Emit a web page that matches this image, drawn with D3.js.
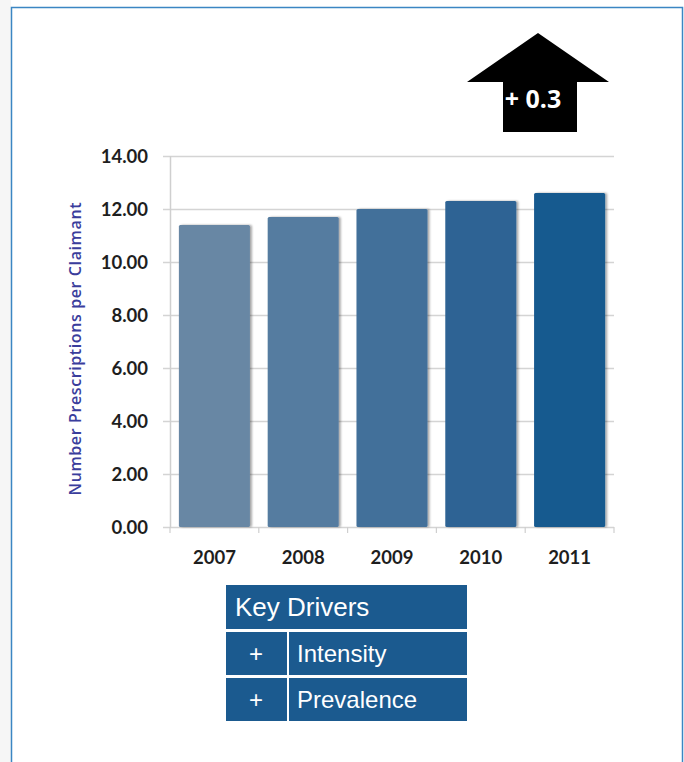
<!DOCTYPE html>
<html>
<head>
<meta charset="utf-8">
<script src="https://cdn.jsdelivr.net/npm/d3@7"></script>
<style>
  html, body { margin: 0; padding: 0; background: #ffffff; }
  svg { display: block; }
</style>
</head>
<body>
<svg id="chart" width="684" height="762"></svg>
<script>
// Prescriptions per claimant by year
const years = ["2007", "2008", "2009", "2010", "2011"];
const prescriptions = [11.4, 11.7, 12.0, 12.3, 12.6];
const barColors = ["#6887a4", "#557ca0", "#42709a", "#2f6494", "#175a8f"];
const yTicks = [0, 2, 4, 6, 8, 10, 12, 14];
const yLabel = "Number Prescriptions per Claimant";
const changeLabel = "+ 0.3";
const driversTitle = "Key Drivers";
const driverSigns = ["+", "+"];
const driverNames = ["Intensity", "Prevalence"];

const svg = d3.select("#chart");

// Page frame
svg.append("rect").attr("x", 0).attr("y", 0).attr("width", 11).attr("height", 762).attr("fill", "#f6f6f6");
svg.append("path")
  .attr("d", "M11.5,762 V7.5 H682.5 V762")
  .attr("fill", "none").attr("stroke", "#3b86c3").attr("stroke-width", 1.5);

// Plot area
const plot = { left: 170, right: 614, top: 156, bottom: 527 };

const x = d3.scaleBand().domain(years).range([plot.left, plot.right]).paddingInner(0.2).paddingOuter(0.1);
const y = d3.scaleLinear().domain([0, 14]).range([plot.bottom, plot.top]);

const font = "Lato, 'Open Sans', sans-serif";

// Gridlines
svg.append("g").selectAll("line").data(yTicks).join("line")
  .attr("x1", plot.left - 7).attr("x2", plot.right)
  .attr("y1", d => y(d) + 0.5).attr("y2", d => y(d) + 0.5)
  .attr("stroke", "#d4d4d4").attr("stroke-width", 1.5);

// Y axis line
svg.append("line")
  .attr("x1", plot.left + 0.5).attr("x2", plot.left + 0.5)
  .attr("y1", plot.top).attr("y2", plot.bottom + 1)
  .attr("stroke", "#cfcfcf").attr("stroke-width", 1.5);

// X-axis tick marks between categories
const xEdges = years.map(d => x(d) - x.step() * x.paddingInner() / 2).concat([plot.right]);
xEdges[0] = plot.left;
svg.append("g").selectAll("line").data(xEdges).join("line")
  .attr("x1", d => d).attr("x2", d => d)
  .attr("y1", plot.bottom).attr("y2", plot.bottom + 6)
  .attr("stroke", "#cfcfcf").attr("stroke-width", 1.2);

// Bar shadows
const defs = svg.append("defs");
defs.append("filter").attr("id", "shadow").attr("x", "-10%").attr("y", "-10%").attr("width", "130%").attr("height", "130%")
  .append("feDropShadow").attr("dx", 2).attr("dy", 0).attr("stdDeviation", 1.2)
  .attr("flood-color", "#000").attr("flood-opacity", 0.35);

// Bars
svg.append("g").selectAll("rect").data(prescriptions).join("rect")
  .attr("x", (d, i) => x(years[i]))
  .attr("width", x.bandwidth())
  .attr("y", d => y(d))
  .attr("height", d => y(0) - y(d))
  .attr("rx", 1.5)
  .attr("fill", (d, i) => barColors[i])
  .attr("filter", "url(#shadow)");

// Y tick labels
svg.append("g").selectAll("text").data(yTicks).join("text")
  .attr("x", 148).attr("y", d => y(d))
  .attr("dy", "0.36em")
  .attr("text-anchor", "end")
  .attr("font-family", font).attr("font-weight", "bold").attr("font-size", 18.5)
  .attr("fill", "#1e1e1e")
  .text(d => d3.format(".2f")(d));

// X tick labels
svg.append("g").selectAll("text").data(years).join("text")
  .attr("x", d => x(d) + x.bandwidth() / 2).attr("y", 564)
  .attr("text-anchor", "middle")
  .attr("font-family", font).attr("font-weight", "bold").attr("font-size", 18.5)
  .attr("fill", "#1e1e1e")
  .text(d => d);

// Y axis title
svg.append("text")
  .attr("transform", `translate(75,349) rotate(-90)`)
  .attr("text-anchor", "middle")
  .attr("dy", "0.35em")
  .attr("font-family", "'Open Sans', sans-serif").attr("font-weight", 600).attr("font-size", 16)
  .attr("textLength", 293).attr("lengthAdjust", "spacing")
  .attr("fill", "#3a3d9c")
  .text(yLabel);

// Change arrow
const arrow = d3.path();
arrow.moveTo(538, 33);
arrow.lineTo(609, 82);
arrow.lineTo(577, 82);
arrow.lineTo(577, 132);
arrow.lineTo(503, 132);
arrow.lineTo(503, 82);
arrow.lineTo(467, 82);
arrow.closePath();
svg.append("path").attr("d", arrow.toString()).attr("fill", "#000");
svg.append("text")
  .attr("x", 533).attr("y", 108)
  .attr("text-anchor", "middle")
  .attr("font-family", "'Open Sans', sans-serif").attr("font-weight", "bold").attr("font-size", 25)
  .attr("fill", "#ffffff")
  .text(changeLabel);

// Key drivers table
const table = svg.append("g");
const tblX = 226, tblW = 241, colW = 62;
const tblFill = "#1b5a8f";
const tblFont = "'Liberation Sans', Arial, sans-serif";
table.append("rect").attr("x", tblX).attr("y", 585).attr("width", tblW).attr("height", 44).attr("fill", tblFill);
table.append("text")
  .attr("x", tblX + 9).attr("y", 616)
  .attr("font-family", tblFont).attr("font-size", 26)
  .attr("fill", "#ffffff").text(driversTitle);

const rowTop = [632, 678];
const rowH = 43;
driverNames.forEach((name, i) => {
  table.append("rect").attr("x", tblX).attr("y", rowTop[i]).attr("width", colW - 1).attr("height", rowH).attr("fill", tblFill);
  table.append("rect").attr("x", tblX + colW + 1).attr("y", rowTop[i]).attr("width", tblW - colW - 1).attr("height", rowH).attr("fill", tblFill);
  table.append("text")
    .attr("x", tblX + colW / 2 - 1).attr("y", rowTop[i] + 30)
    .attr("text-anchor", "middle")
    .attr("font-family", tblFont).attr("font-size", 24)
    .attr("fill", "#ffffff").text(driverSigns[i]);
  table.append("text")
    .attr("x", tblX + colW + 9).attr("y", rowTop[i] + 30)
    .attr("font-family", tblFont).attr("font-size", 24)
    .attr("fill", "#ffffff").text(name);
});
</script>
</body>
</html>
